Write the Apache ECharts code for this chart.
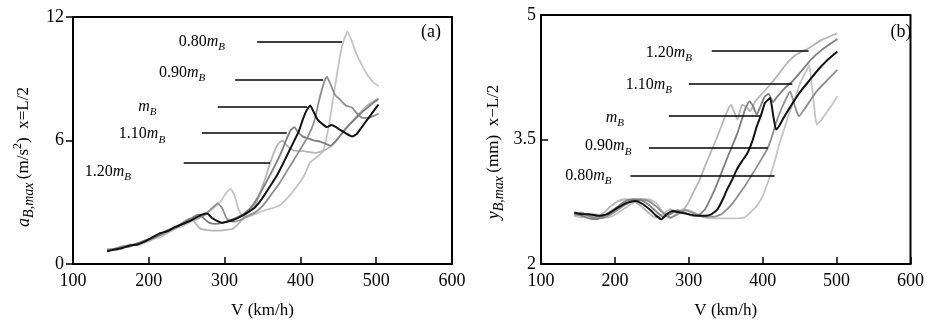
<!DOCTYPE html>
<html>
<head>
<meta charset="utf-8">
<script src="https://cdn.jsdelivr.net/npm/echarts@6/dist/echarts.min.js"></script>
<style>
  html, body { margin: 0; padding: 0; background: #fff; }
  #chart { width: 927px; height: 324px; }
</style>
</head>
<body>
<div id="chart"></div>
<script>
// tick labels
const vTicks = [100, 200, 300, 400, 500, 600];
const accTicks = [0, 6, 12];
const dispTicks = [2, 3.5, 5];

// (a) max acceleration of car body, [V km/h, a m/s2]
const acc080 = [[145,0.72],[155,0.68],[165,0.8],[175,0.95],[185,0.9],[195,1.05],[205,1.2],[215,1.3],[225,1.5],[235,1.7],[245,1.85],[255,2.05],[265,2.2],[275,2.45],[285,2.7],[295,3.05],[302,3.45],[308,3.65],[313,3.35],[318,2.7],[324,2.3],[332,2.3],[342,2.45],[352,2.6],[362,2.7],[373,2.85],[385,3.3],[395,3.75],[405,4.3],[413,4.95],[422,5.2],[430,5.5],[437,6.6],[443,8.0],[449,9.4],[455,10.6],[462,11.3],[467,10.9],[474,10.2],[482,9.6],[490,9.1],[497,8.8],[503,8.65]];
const acc090 = [[145,0.7],[155,0.75],[165,0.85],[175,0.9],[185,1.0],[195,1.1],[205,1.25],[215,1.4],[225,1.6],[235,1.75],[245,1.95],[255,2.1],[265,2.25],[275,2.4],[283,2.7],[291,2.95],[297,2.7],[303,2.2],[312,2.05],[322,2.15],[332,2.35],[342,2.55],[352,2.9],[362,3.4],[372,3.9],[382,4.5],[392,5.1],[402,5.7],[410,6.2],[418,6.9],[425,8.0],[431,8.8],[435,9.1],[440,8.7],[446,8.2],[452,8.0],[460,7.7],[468,7.6],[475,7.3],[482,7.1],[490,7.1],[497,7.2],[503,7.3]];
const accMB = [[145,0.62],[155,0.7],[165,0.78],[175,0.9],[185,0.95],[195,1.1],[205,1.3],[215,1.5],[225,1.6],[235,1.8],[245,1.95],[255,2.1],[262,2.25],[270,2.4],[277,2.45],[283,2.25],[290,2.1],[297,2.0],[303,2.05],[312,2.15],[321,2.3],[330,2.5],[340,2.75],[348,3.1],[356,3.55],[363,3.95],[369,4.3],[376,4.8],[382,5.25],[390,5.85],[398,6.45],[403,7.0],[408,7.45],[413,7.7],[418,7.35],[423,7.0],[429,6.8],[435,6.65],[441,6.75],[447,6.65],[453,6.5],[460,6.35],[468,6.2],[474,6.3],[481,6.65],[488,7.0],[495,7.35],[503,7.75]];
const acc110 = [[145,0.65],[155,0.72],[165,0.82],[175,0.85],[185,1.0],[195,1.15],[205,1.25],[215,1.45],[225,1.65],[235,1.8],[245,2.0],[255,2.2],[262,2.35],[267,2.4],[273,2.2],[280,2.0],[288,1.95],[297,2.0],[306,2.1],[316,2.25],[326,2.45],[336,2.8],[345,3.3],[353,3.85],[361,4.4],[368,4.9],[375,5.45],[381,6.0],[387,6.5],[392,6.65],[397,6.4],[403,6.2],[410,6.1],[418,6.0],[426,5.95],[433,5.85],[440,5.75],[447,6.0],[455,6.35],[463,6.7],[471,7.0],[479,7.3],[487,7.55],[495,7.8],[503,8.0]];
const acc120 = [[145,0.7],[155,0.68],[165,0.75],[175,0.9],[185,1.0],[195,1.05],[205,1.2],[215,1.4],[225,1.55],[235,1.75],[243,1.95],[250,2.15],[256,2.2],[262,1.95],[268,1.72],[278,1.65],[290,1.62],[300,1.65],[310,1.7],[318,1.95],[326,2.3],[334,2.6],[342,3.0],[349,3.7],[355,4.3],[360,4.9],[366,5.5],[371,5.85],[376,6.0],[381,5.8],[387,5.6],[394,5.5],[402,5.5],[410,5.45],[420,5.4],[430,5.5],[440,5.7],[450,6.1],[460,6.6],[470,7.0],[480,7.4],[490,7.75],[503,8.05]];

// (b) max displacement of car body, [V km/h, y mm]
const disp080 = [[145,2.58],[155,2.56],[165,2.6],[175,2.6],[185,2.56],[195,2.57],[205,2.62],[215,2.68],[225,2.74],[235,2.77],[245,2.78],[255,2.74],[262,2.66],[268,2.58],[275,2.55],[283,2.6],[292,2.66],[302,2.64],[312,2.6],[322,2.56],[335,2.55],[350,2.55],[362,2.55],[375,2.56],[383,2.62],[392,2.7],[400,2.82],[410,3.06],[417,3.26],[423,3.46],[430,3.65],[436,3.82],[443,3.98],[449,4.14],[455,4.26],[460,4.34],[463,4.4],[466,4.2],[469,3.95],[473,3.68],[478,3.72],[486,3.82],[494,3.92],[501,4.02]];
const disp090 = [[145,2.6],[155,2.62],[165,2.58],[175,2.55],[185,2.56],[195,2.6],[205,2.66],[215,2.72],[225,2.76],[235,2.78],[245,2.76],[255,2.7],[265,2.62],[275,2.56],[285,2.6],[295,2.65],[305,2.62],[315,2.58],[325,2.57],[335,2.57],[344,2.6],[352,2.66],[360,2.74],[368,2.84],[376,2.94],[383,3.04],[390,3.14],[398,3.26],[407,3.4],[413,3.55],[418,3.7],[424,3.84],[431,3.98],[437,4.08],[441,3.98],[445,3.86],[449,3.78],[456,3.86],[465,3.98],[475,4.1],[488,4.22],[501,4.34]];
const dispMB = [[145,2.62],[155,2.6],[165,2.6],[177,2.58],[190,2.6],[204,2.68],[217,2.74],[228,2.76],[238,2.72],[248,2.65],[256,2.58],[263,2.54],[270,2.6],[278,2.64],[288,2.62],[300,2.6],[311,2.58],[322,2.58],[331,2.6],[339,2.66],[346,2.78],[352,2.9],[359,3.02],[365,3.14],[372,3.24],[379,3.33],[386,3.48],[392,3.66],[398,3.8],[403,3.94],[410,4.0],[414,3.8],[418,3.62],[422,3.66],[427,3.74],[435,3.86],[445,4.0],[453,4.1],[464,4.22],[475,4.34],[488,4.46],[501,4.56]];
const disp110 = [[145,2.6],[155,2.58],[165,2.55],[175,2.54],[185,2.58],[195,2.64],[205,2.7],[215,2.76],[225,2.78],[235,2.77],[245,2.72],[255,2.64],[265,2.57],[275,2.6],[285,2.65],[295,2.62],[305,2.58],[315,2.6],[322,2.66],[330,2.8],[338,2.96],[346,3.14],[353,3.3],[360,3.45],[366,3.58],[372,3.75],[377,3.88],[382,3.96],[387,3.9],[392,3.8],[397,3.9],[403,4.02],[408,4.05],[414,3.95],[420,4.02],[430,4.12],[440,4.2],[452,4.32],[465,4.46],[480,4.58],[501,4.71]];
const disp120 = [[145,2.58],[155,2.62],[165,2.57],[175,2.56],[185,2.62],[195,2.7],[205,2.76],[215,2.78],[225,2.76],[235,2.7],[245,2.62],[255,2.56],[265,2.6],[275,2.66],[285,2.62],[293,2.66],[300,2.75],[307,2.88],[314,3.0],[322,3.18],[330,3.35],[337,3.5],[344,3.66],[350,3.8],[357,3.92],[362,3.82],[366,3.74],[372,3.92],[377,3.9],[383,3.84],[390,3.96],[400,4.06],[410,4.16],[420,4.27],[431,4.4],[445,4.52],[462,4.6],[480,4.7],[501,4.78]];

// curve labels (mass factor) with label anchor [V, value] and leader [V1, V2, value]
const massNames = ['0.80', '0.90', '', '1.10', '1.20'];
const accLabelAt = [[270, 10.8], [244, 9.3], [198, 7.66], [191, 6.31], [146, 4.48]];
const accLeaders = [[343, 455, 10.8], [314, 430, 8.96], [291, 409, 7.66], [270, 382, 6.36], [246, 360, 4.92]];
const dispLabelAt = [[164, 3.06], [191, 3.42], [200, 3.76], [246, 4.16], [273, 4.545]];
const dispLeaders = [[221, 416, 3.06], [246, 407, 3.4], [273, 398, 3.79], [300, 440, 4.17], [331, 462, 4.57]];

const serif = "'Liberation Serif', 'DejaVu Serif', serif";
const ink = '#000';

// 颜色: 0.80, 0.90, mB, 1.10, 1.20
const curveColors = ['#c4c4c4', '#8e8e8e', '#111111', '#7e7e7e', '#b6b6b6'];

const richLabel = {
  n: { fontFamily: serif, fontSize: 16, color: ink, lineHeight: 22, verticalAlign: 'middle' },
  m: { fontFamily: serif, fontSize: 16, fontStyle: 'italic', color: ink, lineHeight: 22, verticalAlign: 'middle' },
  s: { fontFamily: serif, fontSize: 11, fontStyle: 'italic', color: ink, verticalAlign: 'bottom' },
};

function makeCurves(list, idx) {
  // 先画浅色再画黑色
  const order = [0, 4, 1, 3, 2];
  return order.map((k) => ({
    type: 'line',
    xAxisIndex: idx,
    yAxisIndex: idx,
    data: list[k],
    showSymbol: false,
    smooth: 0.15,
    silent: true,
    lineStyle: { color: curveColors[k], width: k === 2 ? 2 : 1.8 },
    z: k === 2 ? 4 : 3,
  }));
}

function makeAnnot(labelAt, leaders, names, idx) {
  return {
    type: 'scatter',
    xAxisIndex: idx,
    yAxisIndex: idx,
    symbolSize: 0,
    silent: true,
    itemStyle: { opacity: 1, color: ink },
    data: labelAt.map((p, i) => ({ value: p, name: names[i] })),
    label: {
      show: true,
      position: 'inside',
      color: ink,
      formatter: (p) => (p.name ? '{n|' + p.name + '}' : '') + '{m|m}{s|B}',
      rich: richLabel,
    },
    markLine: {
      silent: true,
      symbol: ['none', 'none'],
      label: { show: false },
      lineStyle: { color: '#000', width: 1.5, type: 'solid', opacity: 1 },
      data: leaders.map((l) => [{ coord: [l[0], l[2]] }, { coord: [l[1], l[2]] }]),
    },
    z: 5,
  };
}

function xAxisOf(idx) {
  return {
    gridIndex: idx,
    type: 'value',
    min: vTicks[0],
    max: vTicks[vTicks.length - 1],
    interval: vTicks[1] - vTicks[0],
    name: 'V (km/h)',
    nameLocation: 'middle',
    nameGap: 38,
    nameTextStyle: { fontFamily: serif, fontSize: 17, color: ink },
    axisLine: { lineStyle: { color: '#000', width: 2 } },
    axisTick: { inside: true, length: 7, lineStyle: { color: '#000', width: 1.5 } },
    axisLabel: { fontFamily: serif, fontSize: 18, color: ink, margin: 8 },
    splitLine: { show: false },
  };
}

function yAxisOf(idx, ticks, inside, margin) {
  return {
    gridIndex: idx,
    type: 'value',
    min: ticks[0],
    max: ticks[ticks.length - 1],
    interval: ticks[1] - ticks[0],
    axisLine: { lineStyle: { color: '#000', width: 2 } },
    axisTick: { inside: inside, length: 7, lineStyle: { color: '#000', width: 1.5 } },
    axisLabel: { fontFamily: serif, fontSize: 18, color: ink, margin: margin },
    splitLine: { show: false },
  };
}

const nameRich = {
  n: { fontFamily: serif, fontSize: 17, fill: ink, lineHeight: 24, verticalAlign: 'middle' },
  i: { fontFamily: serif, fontSize: 18, fontStyle: 'italic', fill: ink, lineHeight: 24, verticalAlign: 'middle' },
  s: { fontFamily: serif, fontSize: 14, fontStyle: 'italic', fill: ink, verticalAlign: 'bottom' },
  p: { fontFamily: serif, fontSize: 12, fill: ink, verticalAlign: 'top' },
};

const chart = echarts.init(document.getElementById('chart'), null, { renderer: 'canvas' });

chart.setOption({
  animation: false,
  backgroundColor: '#fff',
  grid: [
    { left: 73, top: 17, width: 379, height: 249, show: true, borderColor: '#000', borderWidth: 2, backgroundColor: 'transparent' },
    { left: 541, top: 15, width: 381, height: 250, show: true, borderColor: '#000', borderWidth: 2, backgroundColor: 'transparent' },
  ],
  xAxis: [xAxisOf(0), xAxisOf(1)],
  yAxis: [yAxisOf(0, accTicks, false, 9), yAxisOf(1, dispTicks, true, 5)],
  graphic: [
    {
      type: 'text', x: 24, y: 157, rotation: Math.PI / 2,
      style: {
        text: '{i|a}{s|B,max} {n|(m/s}{p|2}{n|)  x=L/2}',
        rich: nameRich, align: 'center', verticalAlign: 'middle',
      },
    },
    {
      type: 'text', x: 494, y: 152, rotation: Math.PI / 2,
      style: {
        text: '{i|y}{s|B,max} {n|(mm)  x\u2212L/2}',
        rich: nameRich, align: 'center', verticalAlign: 'middle',
      },
    },
    {
      type: 'text', x: 431, y: 32,
      style: { text: '(a)', font: '18px ' + serif, fill: ink, align: 'center', verticalAlign: 'middle' },
    },
    {
      type: 'text', x: 901, y: 32,
      style: { text: '(b)', font: '18px ' + serif, fill: ink, align: 'center', verticalAlign: 'middle' },
    },
  ],
  series: [
    ...makeCurves([acc080, acc090, accMB, acc110, acc120], 0),
    makeAnnot(accLabelAt, accLeaders, massNames, 0),
    ...makeCurves([disp080, disp090, dispMB, disp110, disp120], 1),
    makeAnnot(dispLabelAt, dispLeaders, massNames, 1),
  ],
});
</script>
</body>
</html>
